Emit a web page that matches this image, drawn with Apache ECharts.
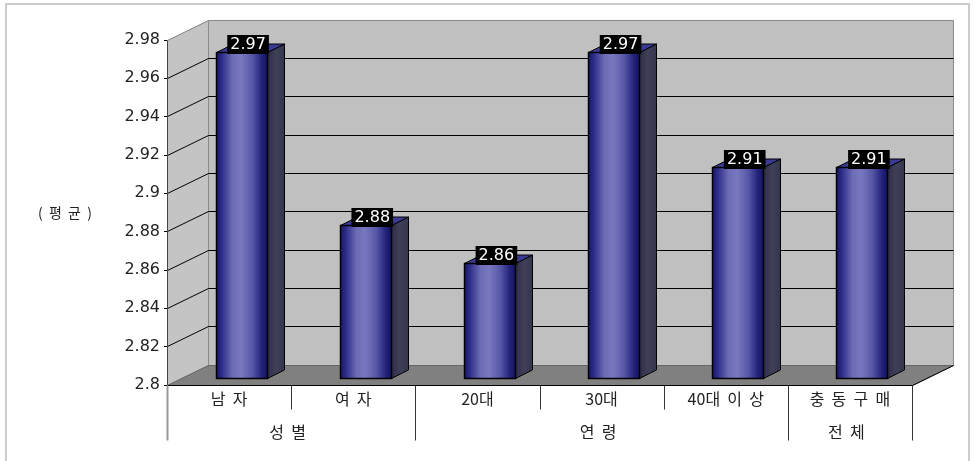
<!DOCTYPE html>
<html><head><meta charset="utf-8">
<script src="https://cdn.jsdelivr.net/npm/echarts@6/dist/echarts.min.js"></script>
<style>html,body{margin:0;padding:0;background:#fff}#c{width:975px;height:461px}</style>
</head><body><div id="c"></div>
<script>
// ---- data ----
const categories = ['남  자', '여  자', '20대', '30대', '40대  이  상', '충  동  구  매'];
const values = [2.97, 2.88, 2.86, 2.97, 2.91, 2.91];
const groupNames = ['성  별', '연  령', '전  체'];
const groupSpans = [2, 3, 1];
const yMin = 2.8, yMax = 2.98, yStep = 0.02;
const yAxisName = '(  평  균  )';

// ---- styling constants ----
const DX = 41, DY = -20;           // depth of the 3D box
const BAR_SHIFT_X = 12, BAR_SHIFT_Y = -7;
const BAR_DX = 17, BAR_DY = -8.5;
const BAR_W = 0.41;
const KFONT = '"Noto Sans CJK KR", "DejaVu Sans", sans-serif';
const NFONT = '"DejaVu Sans", sans-serif';

const crisp = v => Math.round(v - 0.5) + 0.5;

function renderFrame(params, api) {
  const n = categories.length;
  const cw = api.size([1, 0])[0];
  const L = crisp(api.coord([0, yMin])[0] - cw / 2);
  const R = crisp(api.coord([n - 1, yMin])[0] + cw / 2);
  const floorY = crisp(api.coord([0, yMin])[1]);
  const topY = crisp(api.coord([0, yMax])[1]);
  const ch = [];
  ch.push({type: 'polygon', shape: {points: [[L, topY], [L + DX, topY + DY], [L + DX, floorY + DY], [L, floorY]]},
    style: {fill: '#c4c4c4', stroke: '#808080', lineWidth: 1}});
  ch.push({type: 'rect', shape: {x: L + DX, y: topY + DY, width: R - L, height: floorY - topY},
    style: {fill: '#c0c0c0', stroke: '#8a8a8a', lineWidth: 1}});
  ch.push({type: 'polygon', shape: {points: [[L, floorY], [L + DX, floorY + DY], [R + DX, floorY + DY], [R, floorY]]},
    style: {fill: '#808080', stroke: '#666', lineWidth: 1}});
  const nT = Math.round((yMax - yMin) / yStep);
  for (let k = 1; k < nT; k++) {
    const y = crisp(api.coord([0, yMin + k * yStep])[1]);
    ch.push({type: 'line', shape: {x1: L + DX, y1: y + DY, x2: R + DX, y2: y + DY}, style: {stroke: '#000', lineWidth: 1}});
    ch.push({type: 'line', shape: {x1: L, y1: y, x2: L + DX, y2: y + DY}, style: {stroke: '#000', lineWidth: 1}});
  }
  // floor front & right edges
  ch.push({type: 'line', shape: {x1: L, y1: floorY, x2: R, y2: floorY}, style: {stroke: '#000', lineWidth: 1}});
  ch.push({type: 'line', shape: {x1: R, y1: floorY, x2: R + DX, y2: floorY + DY}, style: {stroke: '#000', lineWidth: 1}});
  // front vertical axis
  const row1 = floorY + 24, row2 = floorY + 55;
  ch.push({type: 'line', shape: {x1: L, y1: topY, x2: L, y2: floorY}, style: {stroke: '#444', lineWidth: 1}});
  ch.push({type: 'line', shape: {x1: L, y1: floorY, x2: L, y2: row2}, style: {stroke: '#999', lineWidth: 2}});
  // dividers
  const groupEdges = new Set([0]);
  let acc = 0;
  groupSpans.forEach(s => { acc += s; groupEdges.add(acc); });
  for (let b = 1; b <= n; b++) {
    const x = crisp(L + b * cw);
    ch.push({type: 'line', shape: {x1: x, y1: floorY, x2: x, y2: groupEdges.has(b) ? row2 : row1},
      style: {stroke: '#333', lineWidth: 1}});
  }
  // group labels
  let start = 0;
  groupNames.forEach((g, gi) => {
    const x = L + (start + groupSpans[gi] / 2) * cw - 4;
    ch.push({type: 'text', style: {x: x, y: floorY + 46, text: g, align: 'center', verticalAlign: 'middle',
      fill: '#222', font: '16px ' + KFONT}});
    start += groupSpans[gi];
  });
  return {type: 'group', children: ch};
}

function renderBar(params, api) {
  const i = api.value(0), v = api.value(1);
  const top = api.coord([i, v]);
  const base = api.coord([i, yMin]);
  const cw = api.size([1, 0])[0];
  const bw = cw * BAR_W;
  const cx = top[0] + BAR_SHIFT_X;
  const x0 = Math.round(cx - bw / 2) + 0.5, x1 = Math.round(cx + bw / 2) + 0.5;
  const yT = Math.round(top[1] + BAR_SHIFT_Y) + 0.5, yB = Math.round(base[1] + BAR_SHIFT_Y) + 0.5;
  const frontGrad = new echarts.graphic.LinearGradient(0, 0, 1, 0, [
    {offset: 0, color: '#14146a'}, {offset: 0.12, color: '#2e2e8a'}, {offset: 0.32, color: '#6c6cb4'},
    {offset: 0.48, color: '#7878c0'}, {offset: 0.7, color: '#5656a6'}, {offset: 0.88, color: '#22227a'},
    {offset: 1, color: '#101060'}]);
  const sideGrad = new echarts.graphic.LinearGradient(0, 0, 1, 0, [
    {offset: 0, color: '#2c2c48'}, {offset: 0.5, color: '#3f3f58'}, {offset: 1, color: '#34344c'}]);
  return {type: 'group', children: [
    {type: 'polygon', shape: {points: [[x1, yT], [x1 + BAR_DX, yT + BAR_DY], [x1 + BAR_DX, yB + BAR_DY], [x1, yB]]},
      style: {fill: sideGrad, stroke: '#000', lineWidth: 1}},
    {type: 'polygon', shape: {points: [[x0, yT], [x0 + BAR_DX, yT + BAR_DY], [x1 + BAR_DX, yT + BAR_DY], [x1, yT]]},
      style: {fill: '#3a3a94', stroke: '#000', lineWidth: 1}},
    {type: 'rect', shape: {x: x0, y: yT, width: x1 - x0, height: yB - yT},
      style: {fill: frontGrad, stroke: '#000', lineWidth: 1.5}},
    {type: 'text', style: {x: cx + 7, y: yT - 8, text: v.toFixed(2), align: 'center', verticalAlign: 'middle',
      fill: '#fff', backgroundColor: '#000', padding: [2, 3, 1, 3], font: '16px ' + NFONT}}
  ]};
}

const chart = echarts.init(document.getElementById('c'), null, {renderer: 'canvas'});
chart.setOption({
  animation: false,
  backgroundColor: '#fff',
  grid: {left: 167, right: 63, top: 40, bottom: 76, containLabel: false, outerBoundsMode: 'none'},
  graphic: [{type: 'rect', shape: {x: 6, y: 4, width: 963, height: 470}, style: {fill: 'none', stroke: '#cccccc', lineWidth: 2}, z: 0}],
  xAxis: {type: 'category', data: categories,
    axisLine: {show: false}, axisTick: {show: false}, splitLine: {show: false},
    axisLabel: {interval: 0, margin: 5, fontSize: 16, lineHeight: 18, color: '#222', fontFamily: KFONT,
      formatter: (v) => v}},
  yAxis: {type: 'value', min: yMin, max: yMax, interval: yStep,
    name: yAxisName, nameLocation: 'middle', nameRotate: 0, nameGap: 75,
    nameTextStyle: {fontSize: 14, color: '#222', fontFamily: KFONT},
    axisLine: {show: false}, splitLine: {show: false},
    axisTick: {show: true, length: 3, lineStyle: {color: '#000'}},
    axisLabel: {margin: 7, fontSize: 16, color: '#222', fontFamily: NFONT}},
  series: [
    {type: 'custom', name: 'frame', z: 1, silent: true, clip: false, renderItem: renderFrame, data: [[0, yMin]]},
    {type: 'custom', name: 'bars', z: 3, clip: false, renderItem: renderBar,
      data: values.map((v, i) => [i, v])}
  ]
});
</script></body></html>
